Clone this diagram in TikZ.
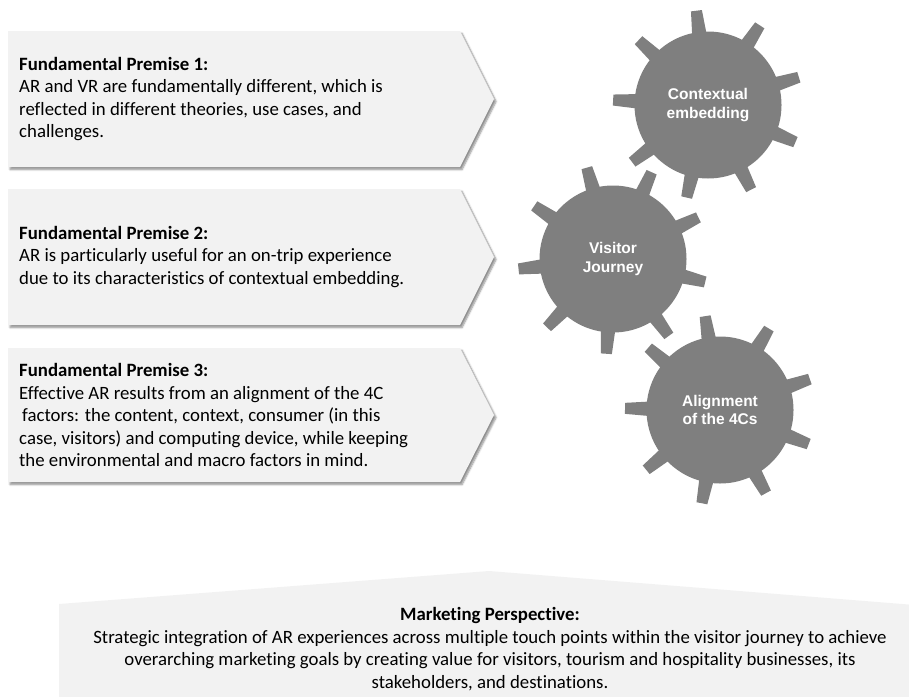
\documentclass[tikz,border=0pt]{standalone}
\usepackage{fontspec}
\setmainfont[Ligatures=NoCommon]{Carlito}
\newfontfamily\gearfont{Liberation Sans}
\usetikzlibrary{positioning,shadows.blur}
\definecolor{boxgray}{HTML}{F2F2F2}
\definecolor{geargray}{HTML}{7F7F7F}

\begin{document}
\begin{tikzpicture}[x=1pt, y=-1pt,
    premise/.style = {fill=boxgray, blur shadow={shadow xshift=2pt, shadow yshift=-2.5pt, shadow blur steps=6, shadow opacity=45}},
    txt/.style = {align=left, anchor=west, inner sep=0pt, font=\fontsize{18.8}{22.5}\selectfont},
    gear/.style = {circle, fill=geargray, minimum size=147pt, inner sep=0pt, align=center, text=white, font=\gearfont\bfseries\fontsize{15.5}{18.5}\selectfont},
    tooth/.style = {fill=geargray}]
    \useasboundingbox (0,0) rectangle (909,696);

    % premises
    \fill[premise] (8,31) -- (460,31) -- (494,99) -- (460,167) -- (8,167) -- cycle;
    \node[txt] (p1) at (19,99) {\textbf{Fundamental Premise 1:}\\AR and VR are fundamentally different, which is\\reflected in different theories, use cases, and\\challenges.};

    \fill[premise] (8,189) -- (460,189) -- (494,257) -- (460,325) -- (8,325) -- cycle;
    \node[txt] (p2) at (19,257) {\textbf{Fundamental Premise 2:}\\AR is particularly useful for an on-trip experience\\due to its characteristics of contextual embedding.};

    \fill[premise] (8,348) -- (460,348) -- (494,415) -- (460,482) -- (8,482) -- cycle;
    \node[txt] (p3) at (19,415) {\textbf{Fundamental Premise 3:}\\Effective AR results from an alignment of the 4C\\\hspace{3pt}factors: the content, context, consumer (in this\\case, visitors) and computing device, while keeping\\the environmental and macro factors in mind.};

    % gears
    \node[gear] (g1) at (708,105) {Contextual\\embedding};
    \foreach \a in {17,57,...,337}
        \fill[tooth, shift={(g1.center)}, rotate=\a] (60pt,-8pt) -- (95pt,-5.5pt) -- (95pt,5.5pt) -- (60pt,8pt) -- cycle;

    \node[gear] (g2) at (613,259) {Visitor\\Journey};
    \foreach \a in {26,66,...,346}
        \fill[tooth, shift={(g2.center)}, rotate=\a] (60pt,-8pt) -- (95pt,-5.5pt) -- (95pt,5.5pt) -- (60pt,8pt) -- cycle;

    \node[gear] (g3) at (720,410) {Alignment\\of the 4Cs};
    \foreach \a in {19,59,...,339}
        \fill[tooth, shift={(g3.center)}, rotate=\a] (60pt,-8pt) -- (95pt,-5.5pt) -- (95pt,5.5pt) -- (60pt,8pt) -- cycle;

    % marketing perspective
    \fill[boxgray] (59,604) -- (489,571) -- (915,605) -- (915,700) -- (59,700) -- cycle;
    \node[align=center, inner sep=0pt, font=\fontsize{18.8}{22.5}\selectfont] (mp) at (490,649) {\textbf{Marketing Perspective:}\\Strategic integration of AR experiences across multiple touch points within the visitor journey to achieve\\overarching marketing goals by creating value for visitors, tourism and hospitality businesses, its\\stakeholders, and destinations.};
\end{tikzpicture}
\end{document}
